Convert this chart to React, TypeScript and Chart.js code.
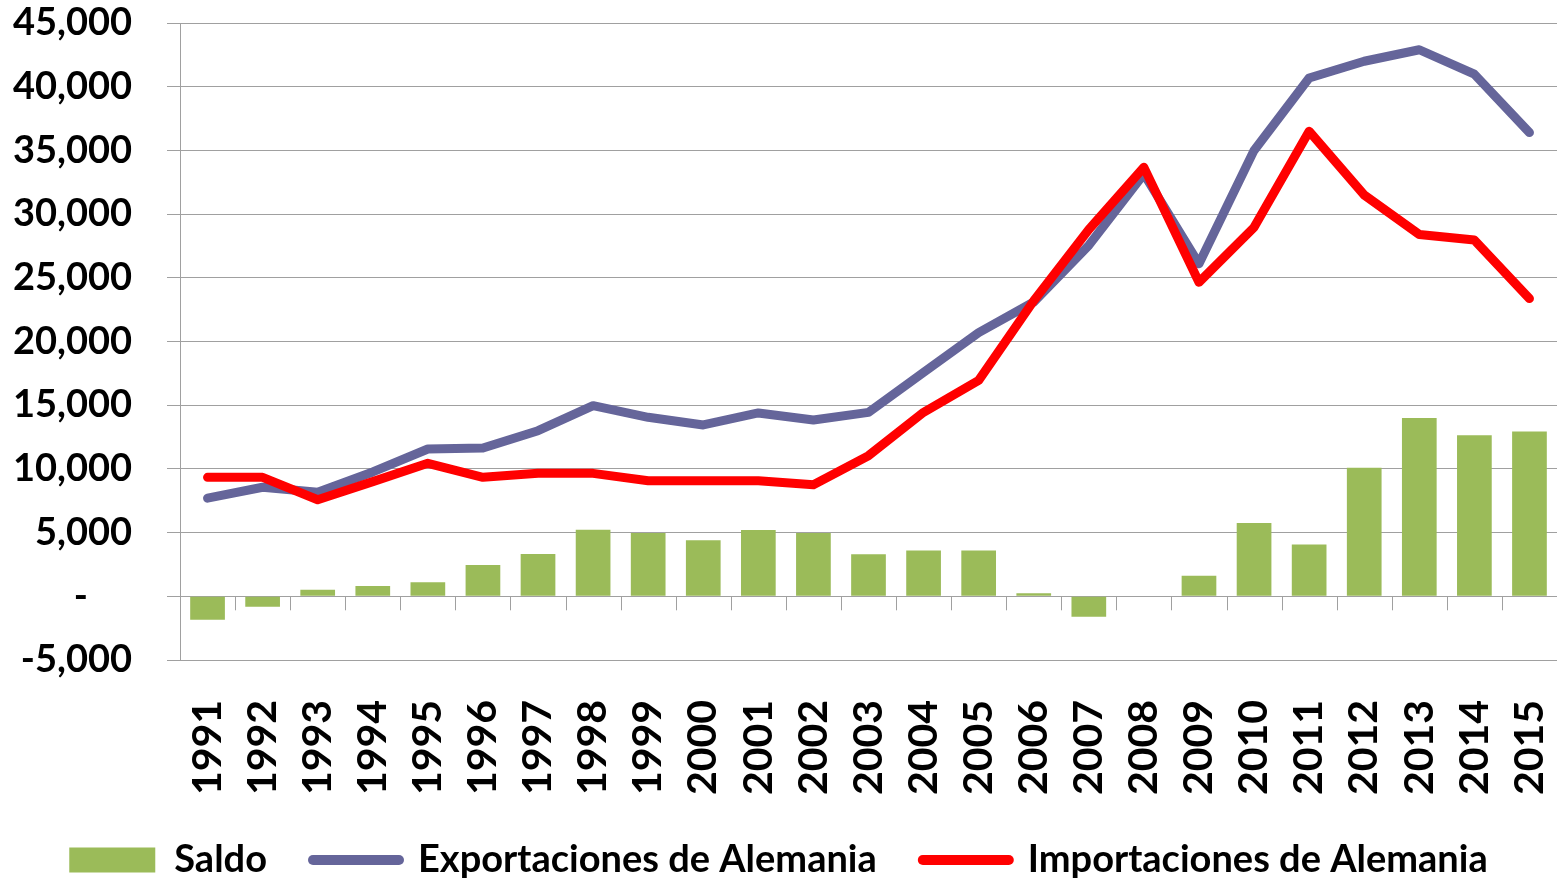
import React, { useEffect, useRef } from 'react';
import { Chart, registerables } from 'chart.js';

Chart.register(...registerables);

const years = ['1991', '1992', '1993', '1994', '1995', '1996', '1997', '1998', '1999', '2000', '2001', '2002', '2003', '2004', '2005', '2006', '2007', '2008', '2009', '2010', '2011', '2012', '2013', '2014', '2015'];

const saldo = [-1850, -820, 520, 810, 1100, 2460, 3320, 5220, 4970, 4400, 5200, 4970, 3300, 3600, 3600, 240, -1600, 0, 1620, 5750, 4060, 10100, 14000, 12640, 12930];

const exportaciones = [7700, 8560, 8160, 9760, 11560, 11640, 13000, 14960, 14050, 13450, 14390, 13840, 14440, 17580, 20700, 23100, 27550, 33150, 26100, 35000, 40680, 42000, 42900, 40980, 36400];

const importaciones = [9340, 9340, 7580, 9000, 10440, 9340, 9650, 9650, 9070, 9070, 9070, 8760, 11040, 14440, 16950, 23200, 28800, 33670, 24650, 28960, 36500, 31500, 28400, 27960, 23370];

const FONT = 'Lato, "DejaVu Sans", sans-serif';
const GRID = '#a0a0a0';
const LEGEND_H = 88;
const XAXIS_H = 135;

export default function App() {
  const ref = useRef<HTMLCanvasElement>(null);

  useEffect(() => {
    document.body.style.margin = '0';
    const helpers = {
      id: 'helpers',
      afterInit(chart: any) {
        const lg = chart.legend;
        if (lg) {
          const orig = lg.fit;
          lg.fit = function () {
            orig.call(this);
            this.height = LEGEND_H;
          };
        }
      },
      beforeDatasetsDraw(chart: any) {
        const x = chart.scales.x;
        const y = chart.scales.y;
        const y0 = y.getPixelForValue(0);
        const n = years.length;
        const step = (chart.chartArea.right - chart.chartArea.left) / n;
        const ctx = chart.ctx;
        ctx.save();
        ctx.strokeStyle = GRID;
        ctx.lineWidth = 1;
        for (let i = 1; i < n; i++) {
          const px = Math.round(x.left + i * step) + 0.5;
          ctx.beginPath();
          ctx.moveTo(px, y0);
          ctx.lineTo(px, y0 + 14);
          ctx.stroke();
        }
        ctx.restore();
      },
    };

    const chart = new Chart(ref.current!, {
      type: 'bar',
      data: {
        labels: years,
        datasets: [
          {
            type: 'bar',
            label: 'Saldo',
            data: saldo,
            backgroundColor: '#9BBB59',
            borderWidth: 0,
            barPercentage: 0.63,
            categoryPercentage: 1,
            order: 3,
          } as any,
          {
            type: 'line',
            label: 'Exportaciones de Alemania',
            data: exportaciones,
            borderColor: '#65659A',
            backgroundColor: '#65659A',
            borderWidth: 9,
            pointRadius: 0,
            tension: 0,
            borderCapStyle: 'round',
            borderJoinStyle: 'round',
            order: 2,
          } as any,
          {
            type: 'line',
            label: 'Importaciones de Alemania',
            data: importaciones,
            borderColor: '#FF0000',
            backgroundColor: '#FF0000',
            borderWidth: 9,
            pointRadius: 0,
            tension: 0,
            borderCapStyle: 'round',
            borderJoinStyle: 'round',
            order: 1,
          } as any,
        ],
      },
      options: {
        responsive: false,
        animation: false,
        devicePixelRatio: 1,
        layout: { padding: { left: 0, right: 1, top: 23, bottom: 0 } },
        plugins: {
          tooltip: { enabled: false },
          legend: {
            position: 'bottom',
            labels: {
              usePointStyle: true,
              pointStyleWidth: 86,
              boxHeight: 25,
              padding: 46,
              color: '#000',
              font: { family: FONT, size: 38, weight: 'bold' },
              sort: (a: any, b: any) => a.datasetIndex - b.datasetIndex,
              generateLabels: (chart: any) => {
                const items = Chart.defaults.plugins.legend.labels.generateLabels(chart);
                return items.map((it: any) => {
                  const ds = chart.data.datasets[it.datasetIndex];
                  if (ds.type === 'bar') {
                    return { ...it, pointStyle: 'rect', lineWidth: 0, fillStyle: '#9BBB59', strokeStyle: '#9BBB59' };
                  }
                  return { ...it, pointStyle: 'line', lineWidth: 10, lineCap: 'round' };
                });
              },
            },
          },
        },
        scales: {
          x: {
            grid: { display: false, drawTicks: false },
            border: { display: false },
            afterFit: (scale: any) => {
              scale.height = XAXIS_H;
              scale.paddingLeft = 0;
              scale.paddingRight = 0;
            },
            ticks: {
              minRotation: 90,
              maxRotation: 90,
              padding: 40,
              autoSkip: false,
              color: '#000',
              font: { family: FONT, size: 41, weight: 'bold' },
            },
          },
          y: {
            min: -5000,
            max: 45000,
            grid: { color: GRID, lineWidth: 1, tickLength: 13, drawTicks: true },
            border: { color: GRID, width: 1 },
            afterFit: (scale: any) => {
              scale.width = 180;
              scale.paddingTop = 0;
              scale.paddingBottom = 0;
            },
            ticks: {
              stepSize: 5000,
              padding: 35,
              color: '#000',
              font: { family: FONT, size: 38, weight: 'bold' },
              callback: (v: any) => (Number(v) === 0 ? '-\u2007\u2007' : Number(v).toLocaleString('en-US')),
            },
          },
        },
      },
      plugins: [helpers],
    });
    return () => chart.destroy();
  }, []);

  return (
    <div style={{ width: 1558, height: 883, background: '#fff' }}>
      <canvas ref={ref} width={1558} height={883} style={{ display: 'block' }} />
    </div>
  );
}
